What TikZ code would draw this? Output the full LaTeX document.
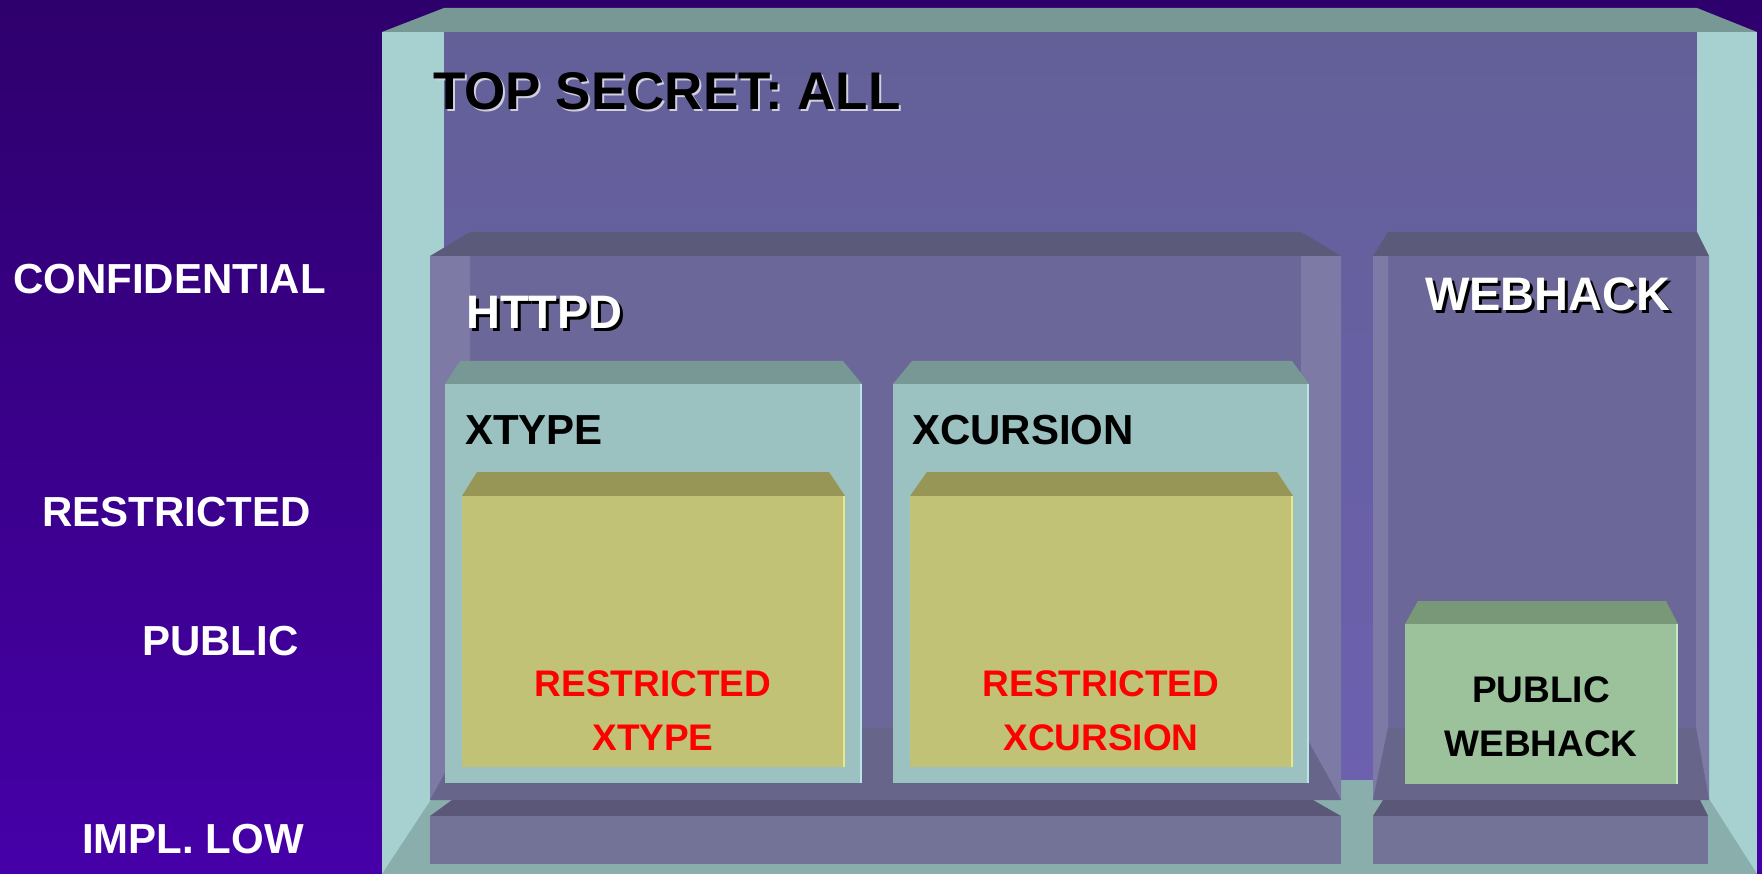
\documentclass[tikz,border=0pt]{standalone}
\usepackage{fontspec}
\setmainfont{Liberation Sans}
\usepackage{tikz}
\usetikzlibrary{positioning}
\usepackage{color}
\definecolor{bgtop}{RGB}{46,0,108}
\definecolor{bgbot}{RGB}{70,0,168}
\definecolor{backtop}{RGB}{99,96,152}
\definecolor{backbot}{RGB}{108,96,176}
\definecolor{wallcyan}{RGB}{167,209,208}
\definecolor{lidteal}{RGB}{120,152,150}
\definecolor{floorteal}{RGB}{138,174,171}
\definecolor{cbody}{RGB}{107,103,153}
\definecolor{cstrip}{RGB}{125,122,165}
\definecolor{clid}{RGB}{92,90,122}
\definecolor{cfloor}{RGB}{103,102,138}
\definecolor{ptop}{RGB}{90,87,120}
\definecolor{pfront}{RGB}{115,115,152}
\definecolor{tface}{RGB}{155,194,193}
\definecolor{tedge}{RGB}{184,230,232}
\definecolor{ylid}{RGB}{151,150,86}
\definecolor{yface}{RGB}{193,194,118}
\definecolor{yedge}{RGB}{233,230,140}
\definecolor{glid}{RGB}{120,152,120}
\definecolor{gface}{RGB}{155,194,155}
\definecolor{gedge}{RGB}{196,236,196}
\definecolor{redtext}{RGB}{255,0,0}

\begin{document}
\begin{tikzpicture}[x=1pt,y=-1pt,
  level/.style={text=white,font=\fontsize{42}{50}\selectfont\bfseries,anchor=base west,inner sep=0},
  big/.style={font=\fontsize{53}{60}\selectfont\bfseries,anchor=base west,inner sep=0},
  mid/.style={font=\fontsize{47}{54}\selectfont\bfseries,anchor=base west,inner sep=0},
  small/.style={font=\fontsize{42}{50}\selectfont\bfseries,anchor=base west,inner sep=0},
  inner/.style={font=\fontsize{37}{54}\selectfont\bfseries,align=center,inner sep=0}]

  \useasboundingbox (0,0) rectangle (1762,874);
  \shade[top color=bgtop,bottom color=bgbot] (0,0) rectangle (1762,874);

  % outer box
  \shade[top color=backtop,bottom color=backbot] (444,32) rectangle (1697,800);
  \fill[lidteal] (382,32) -- (444,8) -- (1697,8) -- (1757,32) -- cycle;
  \fill[wallcyan] (382,32) rectangle (444,874);
  \fill[wallcyan] (1697,32) rectangle (1757,874);
  \fill[floorteal] (382,874) -- (444,780) -- (1697,780) -- (1757,874) -- cycle;

  % httpd
  \fill[cbody] (430,256) rectangle (1341,800);
  \fill[cstrip] (430,256) -- (470,256) -- (470,728) -- (430,800) -- cycle;
  \fill[cstrip] (1301,256) -- (1341,256) -- (1341,800) -- (1301,728) -- cycle;
  \fill[cfloor] (430,800) -- (470,728) -- (1301,728) -- (1341,800) -- cycle;
  \fill[clid] (430,256) -- (470,232) -- (1301,232) -- (1341,256) -- cycle;
  \fill[ptop] (430,816) -- (452,800) -- (1313,800) -- (1341,816) -- cycle;
  \fill[pfront] (430,816) rectangle (1341,864);

  % webhack
  \fill[cbody] (1373,256) rectangle (1709,800);
  \fill[cstrip] (1373,256) -- (1388,256) -- (1388,728) -- (1373,800) -- cycle;
  \fill[cstrip] (1696,256) -- (1709,256) -- (1709,800) -- (1696,728) -- cycle;
  \fill[cfloor] (1373,800) -- (1388,728) -- (1696,728) -- (1709,800) -- cycle;
  \fill[clid] (1373,256) -- (1388,232) -- (1697,232) -- (1709,256) -- cycle;
  \fill[ptop] (1373,816) -- (1383,800) -- (1700,800) -- (1708,816) -- cycle;
  \fill[pfront] (1373,816) rectangle (1708,864);

  % xtype and xcursion
  \fill[lidteal] (445,384) -- (460,361) -- (843,361) -- (862,384) -- cycle;
  \fill[tface] (445,384) rectangle (862,783);
  \draw[tedge,line width=1.5] (861,384) -- (861,783);
  \fill[lidteal] (893,384) -- (912,361) -- (1292,361) -- (1309,384) -- cycle;
  \fill[tface] (893,384) rectangle (1309,783);
  \draw[tedge,line width=1.5] (1308,384) -- (1308,783);

  \fill[ylid] (462,496) -- (477,472) -- (829,472) -- (845,496) -- cycle;
  \fill[yface] (462,496) rectangle (845,767);
  \draw[yedge,line width=1.5] (844,496) -- (844,767);
  \fill[ylid] (910,496) -- (927,472) -- (1277,472) -- (1293,496) -- cycle;
  \fill[yface] (910,496) rectangle (1293,767);
  \draw[yedge,line width=1.5] (1292,496) -- (1292,767);

  \fill[glid] (1405,624) -- (1418,601) -- (1666,601) -- (1678,624) -- cycle;
  \fill[gface] (1405,624) rectangle (1678,784);
  \draw[gedge,line width=1.5] (1677,624) -- (1677,784);

  % texts
  \node[big,text=white!70!backtop] (topshadow) at (435,112) {TOP SECRET: ALL};
  \node[big,text=black] (topsecret) at (433,110) {TOP SECRET: ALL};
  \node[mid,text=black] (httpdshadow) at (469,332) {HTTPD};
  \node[mid,text=white] (httpd) at (466,329) {HTTPD};
  \node[mid,text=black] (webshadow) at (1428,314) {WEBHACK};
  \node[mid,text=white] (webhack) at (1425,311) {WEBHACK};
  \node[small,text=black] (xtype) at (465,444) {XTYPE};
  \node[small,text=black] (xcursion) at (912,444) {XCURSION};
  \node[inner,text=redtext] (rxtype) at (653,711) {RESTRICTED\\XTYPE};
  \node[inner,text=redtext] (rxcursion) at (1101,711) {RESTRICTED\\XCURSION};
  \node[inner,text=black] (pwebhack) at (1541,717) {PUBLIC\\WEBHACK};

  \node[level] (confidential) at (13,294) {CONFIDENTIAL};
  \node[level] (restricted) at (42,526) {RESTRICTED};
  \node[level] (public) at (142,655) {PUBLIC};
  \node[level] (impllow) at (82,853) {IMPL. LOW};

\end{tikzpicture}
\end{document}
